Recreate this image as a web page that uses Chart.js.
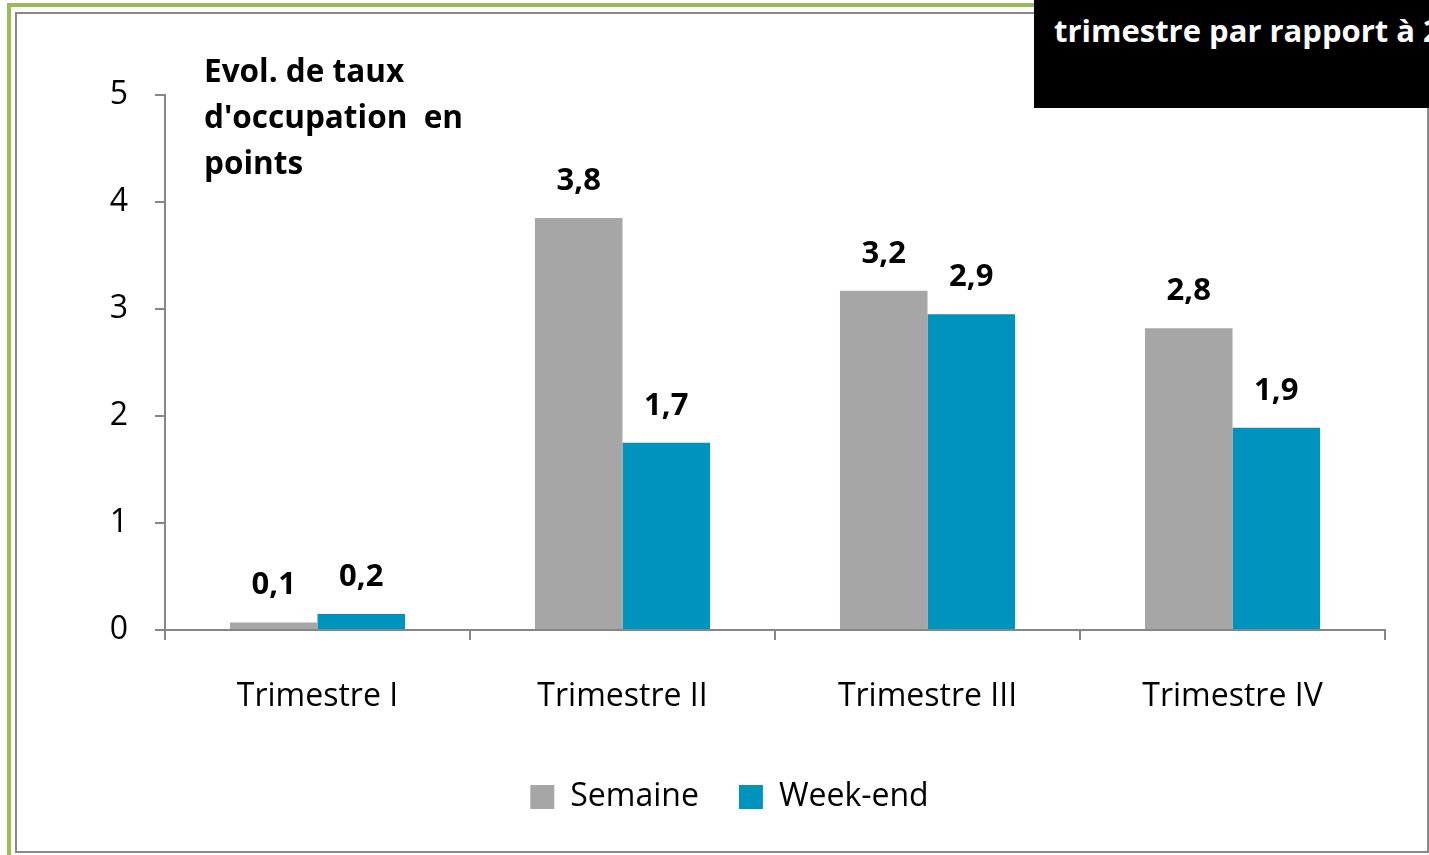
<!DOCTYPE html>
<html>
<head>
<meta charset="utf-8">
<script src="https://cdn.jsdelivr.net/npm/chart.js@4"></script>
<style>
  html, body { margin: 0; padding: 0; background: #fff; }
  #wrap { position: relative; width: 1429px; height: 855px; overflow: hidden; font-family: 'Open Sans', sans-serif; }
  .green-left { position: absolute; left: 7px; top: 3px; width: 4px; height: 852px; background: #9bbb59; }
  .green-top { position: absolute; left: 7px; top: 3px; width: 1030px; height: 4px; background: #9bbb59; }
  .frame { position: absolute; left: 15px; top: 12px; width: 1414px; height: 841px; box-sizing: border-box; border: 2px solid #888; }
  canvas { position: absolute; left: 0; top: 0; }
  .ytitle { position: absolute; left: 204px; top: 47px; font-weight: bold; font-size: 31.5px; line-height: 46px; color: #000; white-space: pre; }
  .blackbox { position: absolute; left: 1034px; top: 0; width: 395px; height: 108px; background: #000; overflow: hidden; }
  .blackbox span { position: absolute; left: 20px; top: 11px; line-height: 38px; color: #fff; font-weight: bold; font-size: 31px; white-space: nowrap; }
</style>
</head>
<body>
<div id="wrap">
  <div class="green-left"></div>
  <div class="green-top"></div>
  <div class="frame"></div>
  <canvas id="chart" width="1429" height="855"></canvas>
  <div class="ytitle">Evol. de taux
d'occupation  en
points</div>
  <div class="blackbox"><span>trimestre par rapport à 2010</span></div>
</div>
<script>
const categories = ['Trimestre I', 'Trimestre II', 'Trimestre III', 'Trimestre IV'];
const semaine = [0.07, 3.85, 3.17, 2.82];
const weekend = [0.15, 1.75, 2.95, 1.89];
const semaineText = ['0,1', '3,8', '3,2', '2,8'];
const weekendText = ['0,2', '1,7', '2,9', '1,9'];
const yTicks = [0, 1, 2, 3, 4, 5];

const axisGray = '#868686';

// bold value text above each bar
const valueLabels = {
  id: 'valueLabels',
  afterDatasetsDraw(chart) {
    const ctx = chart.ctx;
    ctx.save();
    ctx.font = 'bold 31px "Open Sans"';
    ctx.fillStyle = '#000';
    ctx.textAlign = 'center';
    ctx.textBaseline = 'middle';
    chart.data.datasets.forEach((ds, i) => {
      chart.getDatasetMeta(i).data.forEach((bar, j) => {
        ctx.fillText(ds.valueText[j], bar.x, bar.y - 37);
      });
    });
    ctx.restore();
  }
};

Chart.defaults.font.family = 'Open Sans';
Chart.defaults.color = '#000';

new Chart(document.getElementById('chart'), {
  type: 'bar',
  data: {
    labels: categories,
    datasets: [
      { label: 'Semaine', data: semaine, valueText: semaineText, backgroundColor: '#a6a6a6' },
      { label: 'Week-end', data: weekend, valueText: weekendText, backgroundColor: '#0093be' }
    ]
  },
  options: {
    responsive: false,
    animation: false,
    layout: { padding: { top: 95, right: 44, bottom: 32, left: 74 } },
    datasets: { bar: { barPercentage: 1, categoryPercentage: 0.574 } },
    scales: {
      x: {
        grid: { drawOnChartArea: false, drawTicks: true, tickLength: 10, color: axisGray, lineWidth: 2 },
        border: { color: axisGray, width: 2 },
        ticks: { font: { size: 32 }, padding: 38, maxRotation: 0 },
        afterFit(scale) { scale.height = 111; }
      },
      y: {
        min: 0,
        max: 5,
        afterBuildTicks(scale) { scale.ticks = yTicks.map(v => ({ value: v })); },
        grid: { drawOnChartArea: false, drawTicks: true, tickLength: 10, color: axisGray, lineWidth: 2 },
        border: { color: axisGray, width: 2 },
        ticks: { font: { size: 32 }, padding: 27 },
        afterFit(scale) { scale.width = 91; }
      }
    },
    plugins: {
      legend: {
        position: 'bottom',
        labels: { boxWidth: 24, boxHeight: 24, padding: 40, font: { size: 32 } }
      },
      tooltip: { enabled: false }
    }
  },
  plugins: [valueLabels]
});
</script>
</body>
</html>
